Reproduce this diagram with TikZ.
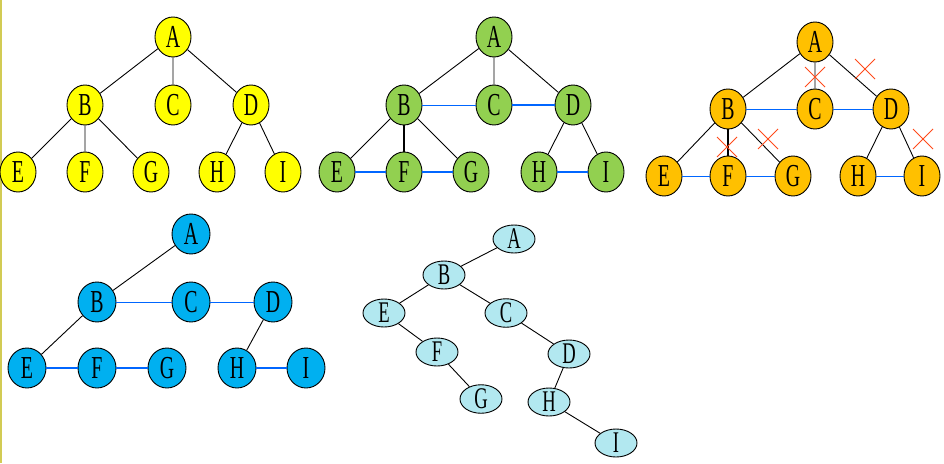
\documentclass[tikz,border=0pt]{standalone}
\usepackage{fontspec}
\usetikzlibrary{shapes.geometric,shapes.misc}
\newfontfamily\letterfont[FakeStretch=0.62]{Liberation Serif}
\definecolor{ylw}{HTML}{FFFF00}
\definecolor{grn}{HTML}{92D050}
\definecolor{org}{HTML}{FFC000}
\definecolor{sky}{HTML}{00B0F0}
\definecolor{pale}{HTML}{B2E8F0}
\definecolor{lnk}{HTML}{0066FF}
\definecolor{cutred}{HTML}{FF4A1A}
\begin{document}
\begin{tikzpicture}[x=1pt,y=-1pt,
  v/.style={ellipse,draw=black,line width=0.9pt,minimum width=36pt,minimum height=40pt,inner sep=0pt,font=\letterfont\fontsize{32}{32}\selectfont},
  vy/.style={v,fill=ylw},
  vg/.style={v,fill=grn},
  vo/.style={v,fill=org},
  vb/.style={v,fill=sky,minimum width=38pt},
  vp/.style={v,fill=pale,minimum width=42pt,minimum height=28pt,font=\letterfont\fontsize{30}{30}\selectfont},
  e/.style={draw=black,line width=0.9pt},
  ee/.style={draw=black,line width=1.7pt},
  s/.style={draw=lnk,line width=0.9pt},
  ss/.style={draw=lnk,line width=1.7pt},
  cut/.style={cross out,draw=cutred,line width=1pt,minimum size=19pt,inner sep=0pt}]
  \useasboundingbox (0,0) rectangle (944,463);
  \draw[draw=yellow!60!gray,line width=1.5pt] (0.75,0) -- (0.75,463);
  % tree (yellow)
  \node[vy] (yA) at (173,37) {A};
  \node[vy] (yB) at (85,105) {B}; \node[vy] (yC) at (173,105) {C}; \node[vy] (yD) at (251,105) {D};
  \node[vy] (yE) at (18,172) {E}; \node[vy] (yF) at (85,172) {F}; \node[vy] (yG) at (151,172) {G};
  \node[vy] (yH) at (217,172) {H}; \node[vy] (yI) at (283,172) {I};
  \draw[e] (yA)--(yB) (yA)--(yC) (yA)--(yD);
  \draw[e] (yB)--(yE) (yB)--(yF) (yB)--(yG) (yD)--(yH) (yD)--(yI);
  % siblings linked (green)
  \node[vg] (gA) at (494,37) {A};
  \node[vg] (gB) at (404,105) {B}; \node[vg] (gC) at (494,105) {C}; \node[vg] (gD) at (573,105) {D};
  \node[vg] (gE) at (337,172) {E}; \node[vg] (gF) at (404,172) {F}; \node[vg] (gG) at (471,172) {G};
  \node[vg] (gH) at (539,172) {H}; \node[vg] (gI) at (606,172) {I};
  \draw[e] (gA)--(gB) (gA)--(gC) (gA)--(gD) (gB)--(gE) (gB)--(gG) (gD)--(gH) (gD)--(gI);
  \draw[ee] (gB)--(gF);
  \draw[s] (gB)--(gC);
  \draw[ss] (gC)--(gD) (gE)--(gF) (gF)--(gG) (gH)--(gI);
  % cut edges (orange)
  \node[vo] (oA) at (815,42) {A};
  \node[vo] (oB) at (728,109) {B}; \node[vo] (oC) at (815,109) {C}; \node[vo] (oD) at (891,109) {D};
  \node[vo] (oE) at (664,176) {E}; \node[vo] (oF) at (728,176) {F}; \node[vo] (oG) at (793,176) {G};
  \node[vo] (oH) at (858,176) {H}; \node[vo] (oI) at (922,176) {I};
  \draw[e] (oA)--(oB) (oA)--(oC) (oA)--(oD) (oB)--(oE) (oB)--(oG) (oD)--(oH) (oD)--(oI);
  \draw[ee] (oB)--(oF);
  \draw[s] (oB)--(oC) (oC)--(oD) (oE)--(oF) (oF)--(oG) (oH)--(oI);
  \node[cut] (x1) at (815,77) {}; \node[cut] (x2) at (865,69) {};
  \node[cut] (x3) at (727,147) {}; \node[cut] (x4) at (768,139) {};
  \node[cut] (x5) at (923,139) {};
  % what is left (blue)
  \node[vb] (bA) at (191,234) {A};
  \node[vb] (bB) at (97,302) {B}; \node[vb] (bC) at (191,302) {C}; \node[vb] (bD) at (273,302) {D};
  \node[vb] (bE) at (27,368) {E}; \node[vb] (bF) at (97,368) {F}; \node[vb] (bG) at (167,368) {G};
  \node[vb] (bH) at (237,368) {H}; \node[vb] (bI) at (306,368) {I};
  \draw[e] (bA)--(bB) (bB)--(bE) (bD)--(bH);
  \draw[s] (bB)--(bC) (bC)--(bD);
  \draw[ss] (bE)--(bF) (bF)--(bG) (bH)--(bI);
  % binary tree
  \node[vp] (pA) at (514,239) {A};
  \node[vp] (pB) at (444,275) {B};
  \node[vp] (pE) at (384,313) {E}; \node[vp] (pC) at (506,313) {C};
  \node[vp] (pF) at (437,352) {F}; \node[vp] (pD) at (569,354) {D};
  \node[vp] (pG) at (481,399) {G}; \node[vp] (pH) at (549,402) {H};
  \node[vp] (pI) at (616,443) {I};
  \draw[e] (pA)--(pB) (pB)--(pE) (pB)--(pC) (pE)--(pF) (pF)--(pG) (pC)--(pD) (pD)--(pH) (pH)--(pI);
\end{tikzpicture}
\end{document}
